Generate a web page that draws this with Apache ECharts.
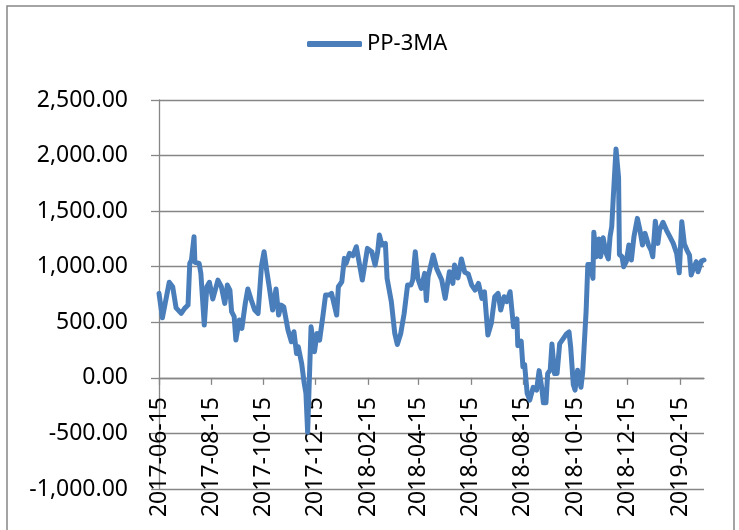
<!DOCTYPE html>
<html>
<head>
<meta charset="utf-8">
<title>PP-3MA</title>
<script src="https://cdn.jsdelivr.net/npm/echarts@6/dist/echarts.min.js"></script>
<style>
  html, body { margin: 0; padding: 0; background: #fff; }
  #chart { width: 739px; height: 530px; }
</style>
</head>
<body>
<div id="chart"></div>
<script>
const seriesName = 'PP-3MA'
const startDate = '2017-06-15'
const endDate = '2019-03-15'
const tickLabels = ['2017-06-15', '2017-08-15', '2017-10-15', '2017-12-15', '2018-02-15', '2018-04-15',
  '2018-06-15', '2018-08-15', '2018-10-15', '2018-12-15', '2019-02-15']

const dates2017 = ['2017-06-15', '2017-06-19', '2017-06-27', '2017-07-01', '2017-07-05', '2017-07-11', '2017-07-15',
  '2017-07-19', '2017-07-21', '2017-07-23', '2017-07-26', '2017-07-27', '2017-08-01', '2017-08-03', '2017-08-07',
  '2017-08-10', '2017-08-13', '2017-08-17', '2017-08-23', '2017-08-27', '2017-08-31', '2017-09-03', '2017-09-06',
  '2017-09-08', '2017-09-11', '2017-09-13', '2017-09-17', '2017-09-20', '2017-09-24', '2017-09-27', '2017-10-01',
  '2017-10-05', '2017-10-09', '2017-10-13', '2017-10-16', '2017-10-19', '2017-10-22', '2017-10-26', '2017-10-30',
  '2017-11-02', '2017-11-05', '2017-11-08', '2017-11-13', '2017-11-17', '2017-11-20', '2017-11-23', '2017-11-25',
  '2017-11-29', '2017-12-02', '2017-12-04', '2017-12-06', '2017-12-10', '2017-12-14', '2017-12-17', '2017-12-20',
  '2017-12-24', '2017-12-27', '2017-12-31']
const values2017 = [760, 540, 860, 820, 630, 580, 625,
  655, 1030, 1060, 1270, 1040, 1030, 940, 475,
  820, 860, 710, 880, 820, 670, 835, 790,
  595, 550, 340, 520, 445, 670, 800, 700,
  610, 580, 1010, 1135, 970, 820, 610, 800,
  565, 655, 640, 430, 325, 415, 220, 280,
  130, -50, -140, -490, 460, 235, 400, 340,
  565, 745, 745]

const dates2018 = ['2018-01-03', '2018-01-09', '2018-01-11', '2018-01-15', '2018-01-18', '2018-01-20', '2018-01-24',
  '2018-01-28', '2018-02-01', '2018-02-04', '2018-02-08', '2018-02-14', '2018-02-19', '2018-02-23', '2018-02-26',
  '2018-02-28', '2018-03-03', '2018-03-07', '2018-03-09', '2018-03-14', '2018-03-18', '2018-03-21', '2018-03-25',
  '2018-03-29', '2018-04-02', '2018-04-06', '2018-04-08', '2018-04-11', '2018-04-14', '2018-04-18', '2018-04-22',
  '2018-04-24', '2018-04-26', '2018-05-02', '2018-05-06', '2018-05-12', '2018-05-16', '2018-05-21', '2018-05-25',
  '2018-05-27', '2018-05-31', '2018-06-04', '2018-06-08', '2018-06-12', '2018-06-16', '2018-06-20', '2018-06-24',
  '2018-06-28', '2018-07-01', '2018-07-05', '2018-07-09', '2018-07-13', '2018-07-17', '2018-07-20', '2018-07-24',
  '2018-07-27', '2018-07-31', '2018-08-04', '2018-08-08', '2018-08-09', '2018-08-13', '2018-08-15', '2018-08-17',
  '2018-08-20', '2018-08-23', '2018-08-27', '2018-08-31', '2018-09-03', '2018-09-06', '2018-09-08', '2018-09-11',
  '2018-09-13', '2018-09-16', '2018-09-18', '2018-09-21', '2018-09-24', '2018-09-27', '2018-10-01', '2018-10-05',
  '2018-10-08', '2018-10-10', '2018-10-13', '2018-10-15', '2018-10-18', '2018-10-20', '2018-10-22', '2018-10-24',
  '2018-10-28', '2018-10-30', '2018-11-02', '2018-11-05', '2018-11-06', '2018-11-09', '2018-11-12', '2018-11-14',
  '2018-11-17', '2018-11-20', '2018-11-23', '2018-11-25', '2018-11-27', '2018-11-29', '2018-12-02', '2018-12-05',
  '2018-12-06', '2018-12-09', '2018-12-11', '2018-12-14', '2018-12-17', '2018-12-20', '2018-12-23', '2018-12-27',
  '2018-12-30']
const values2018 = [760, 565, 820, 865, 1075, 1030, 1120,
  1100, 1180, 1050, 880, 1165, 1135, 1015, 1135,
  1285, 1195, 1210, 895, 685, 400, 300, 400,
  580, 835, 835, 880, 1135, 895, 805, 940,
  695, 910, 1105, 985, 880, 715, 955, 850,
  1015, 900, 1070, 950, 935, 835, 790, 850,
  715, 775, 385, 490, 730, 760, 610, 730,
  685, 775, 460, 530, 290, 330, 100, 120,
  -140, -200, -85, -110, 65, -85, -225, -225,
  40, 70, 305, 38, 40, 305, 350, 395,
  413, 270, -60, -110, 68, 68, -85, 50,
  600, 1020, 1020, 895, 1310, 1090, 1250, 1090,
  1260, 1130, 1070, 1270, 1360, 1650, 2060, 1800,
  1110, 1090, 1000, 1045, 1195, 1060, 1270, 1435,
  1330]

const dates2019 = ['2019-01-02', '2019-01-05', '2019-01-09', '2019-01-12', '2019-01-14', '2019-01-17', '2019-01-20',
  '2019-01-22', '2019-01-26', '2019-01-30', '2019-02-03', '2019-02-07', '2019-02-11', '2019-02-14', '2019-02-17',
  '2019-02-20', '2019-02-23', '2019-02-26', '2019-02-28', '2019-03-02', '2019-03-06', '2019-03-08', '2019-03-12',
  '2019-03-15']
const values2019 = [1195, 1300, 1195, 1150, 1090, 1410, 1210,
  1330, 1400, 1330, 1270, 1210, 1120, 945, 1405,
  1205, 1150, 1105, 925, 970, 1045, 955, 1050,
  1060]

// every calendar day is a category, so the 15th-of-month ticks land where Excel's date axis put them
function dayList (from, to) {
  const out = []
  let t = Date.parse(from + 'T00:00:00Z')
  const end = Date.parse(to + 'T00:00:00Z')
  while (t <= end) {
    out.push(new Date(t).toISOString().slice(0, 10))
    t += 86400000
  }
  return out
}

const days = dayList(startDate, endDate)
const dates = dates2017.concat(dates2018, dates2019)
const values = values2017.concat(values2018, values2019)
const lineData = dates.map((d, i) => [d, values[i]])

const gray = '#868686'
const blue = '#4a7ebb'
const isTick = (idx, val) => tickLabels.indexOf(val) !== -1

const chart = echarts.init(document.getElementById('chart'))
chart.setOption({
  animation: false,
  textStyle: { fontFamily: 'Noto Sans' },
  graphic: [{
    type: 'rect',
    shape: { x: 7, y: 6, width: 727, height: 540 },
    style: { fill: 'none', stroke: gray, lineWidth: 1.5 },
    silent: true
  }],
  legend: {
    data: [{ name: seriesName, icon: 'roundRect' }],
    left: 302,
    top: 28,
    itemWidth: 55,
    itemHeight: 6,
    itemStyle: { color: blue },
    textStyle: { fontSize: 22, color: '#000', fontFamily: 'Noto Sans' }
  },
  grid: {
    left: 159,
    right: 35,
    top: 100,
    bottom: 41,
    outerBoundsMode: 'none',
    containLabel: false
  },
  xAxis: {
    type: 'category',
    data: days,
    boundaryGap: false,
    axisLine: { onZero: true, lineStyle: { color: gray, width: 1.3 } },
    axisTick: { interval: isTick, length: 7, lineStyle: { color: gray, width: 1.3 } },
    axisLabel: {
      interval: isTick,
      rotate: 90,
      // labels sit just under the zero line, not at the bottom of the plot
      margin: -92,
      fontSize: 23,
      color: '#000',
      fontFamily: 'Noto Sans'
    },
    splitLine: { show: false }
  },
  yAxis: {
    type: 'value',
    min: -1000,
    max: 2500,
    interval: 500,
    axisLine: { show: true, lineStyle: { color: gray, width: 1.3 } },
    axisTick: { show: true, length: 8, lineStyle: { color: gray, width: 1.3 } },
    axisLabel: {
      margin: 31,
      fontSize: 23,
      color: '#000',
      fontFamily: 'Noto Sans',
      formatter: v => v.toLocaleString('en-US', { minimumFractionDigits: 2, maximumFractionDigits: 2 })
    },
    splitLine: { show: true, lineStyle: { color: gray, width: 1.3 } }
  },
  series: [{
    name: seriesName,
    type: 'line',
    data: lineData,
    showSymbol: false,
    symbol: 'none',
    lineStyle: { color: blue, width: 5, join: 'round', cap: 'round' },
    itemStyle: { color: blue }
  }]
})
</script>
</body>
</html>
